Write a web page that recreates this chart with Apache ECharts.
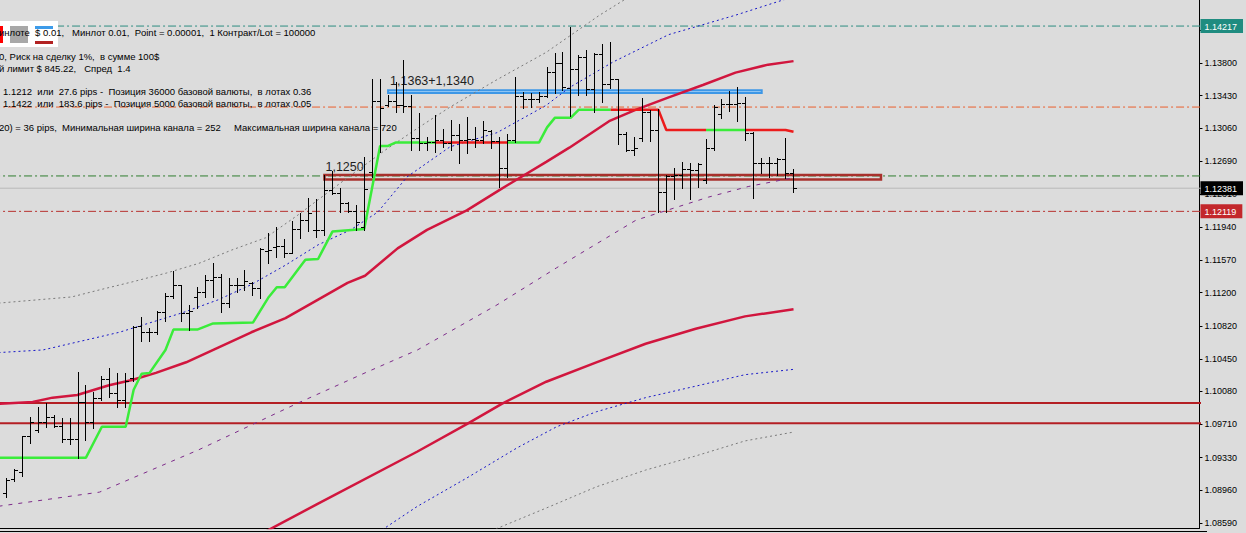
<!DOCTYPE html>
<html><head><meta charset="utf-8">
<script src="https://cdn.jsdelivr.net/npm/echarts@6/dist/echarts.min.js"></script>
<style>html,body{margin:0;padding:0;background:#dcdcdc;overflow:hidden}#c{width:1246px;height:533px}</style>
</head><body><div id="c"></div>
<script>
// ---------- DATA (prices) ----------
const barOpen = [1.0893,1.0909,1.0917,1.0957,1.0964,1.0973,1.0979,1.0969,1.0954,1.0954,
1.0996,1.0973,1.1001,1.1022,1.1006,1.0998,1.1023,1.1082,1.1075,1.1075,
1.1098,1.1116,1.1129,1.1097,1.1115,1.1121,1.1134,1.1138,1.1108,1.1129,
1.1129,1.1131,1.1125,1.1167,1.1172,1.1173,1.1165,1.1192,1.1202,1.1191,
1.1191,1.1236,1.1233,1.1221,1.1212,1.1194,1.1257,1.1337,1.1332,1.1337,
1.1332,1.1331,1.1295,1.1289,1.1290,1.1293,1.1289,1.1298,1.1293,1.1294,
1.1293,1.1303,1.1292,1.1261,1.1293,1.1343,1.1339,1.1339,1.1343,1.1370,
1.1380,1.1352,1.1373,1.1387,1.1350,1.1390,1.1356,1.1362,1.1300,1.1281,
1.1295,1.1324,1.1304,1.1234,1.1252,1.1253,1.1260,1.1259,1.1247,1.1284,
1.1322,1.1333,1.1333,1.1335,1.1301,1.1267,1.1267,1.1267,1.1271,1.1255];
const barHigh = [1.0910,1.0920,1.0958,1.0979,1.0990,1.0995,1.0981,1.0978,1.0978,1.1030,
1.1015,1.1007,1.1026,1.1035,1.1029,1.1029,1.1082,1.1092,1.1080,1.1099,
1.1120,1.1144,1.1129,1.1106,1.1126,1.1140,1.1153,1.1141,1.1137,1.1137,
1.1146,1.1132,1.1170,1.1187,1.1194,1.1181,1.1201,1.1210,1.1227,1.1226,
1.1253,1.1258,1.1238,1.1223,1.1219,1.1273,1.1362,1.1362,1.1344,1.1358,
1.1383,1.1344,1.1323,1.1296,1.1321,1.1305,1.1315,1.1311,1.1319,1.1307,
1.1314,1.1304,1.1296,1.1300,1.1364,1.1347,1.1346,1.1347,1.1375,1.1391,
1.1392,1.1421,1.1389,1.1395,1.1391,1.1401,1.1404,1.1362,1.1302,1.1296,
1.1340,1.1327,1.1328,1.1253,1.1261,1.1268,1.1267,1.1267,1.1294,1.1332,
1.1339,1.1348,1.1353,1.1341,1.1302,1.1272,1.1273,1.1272,1.1295,1.1260];
const barLow = [1.0889,1.0907,1.0912,1.0950,1.0962,1.0968,1.0968,1.0951,1.0949,1.0933,
1.0953,1.0967,1.0998,1.1002,1.0990,1.0990,1.1020,1.1065,1.1065,1.1073,
1.1088,1.1114,1.1088,1.1078,1.1103,1.1115,1.1115,1.1098,1.1104,1.1121,
1.1123,1.1117,1.1114,1.1153,1.1160,1.1160,1.1165,1.1182,1.1190,1.1183,
1.1185,1.1232,1.1211,1.1211,1.1191,1.1191,1.1251,1.1279,1.1331,1.1324,
1.1324,1.1281,1.1281,1.1281,1.1279,1.1285,1.1281,1.1267,1.1278,1.1285,
1.1289,1.1284,1.1240,1.1251,1.1290,1.1329,1.1330,1.1336,1.1341,1.1346,
1.1349,1.1320,1.1344,1.1344,1.1324,1.1336,1.1352,1.1288,1.1280,1.1276,
1.1292,1.1292,1.1211,1.1211,1.1226,1.1238,1.1226,1.1240,1.1244,1.1281,
1.1318,1.1326,1.1314,1.1293,1.1227,1.1255,1.1251,1.1253,1.1250,1.1234];
const barClose = [1.0908,1.0919,1.0957,1.0973,1.0973,1.0979,1.0969,1.0954,1.0954,1.0996,
1.0973,1.1001,1.1022,1.1006,1.0998,1.1020,1.1081,1.1075,1.1075,1.1098,
1.1116,1.1129,1.1097,1.1099,1.1121,1.1134,1.1138,1.1108,1.1129,1.1129,
1.1133,1.1125,1.1169,1.1168,1.1173,1.1165,1.1192,1.1202,1.1210,1.1191,
1.1236,1.1233,1.1221,1.1212,1.1200,1.1237,1.1337,1.1329,1.1337,1.1332,
1.1331,1.1295,1.1289,1.1290,1.1293,1.1289,1.1298,1.1293,1.1294,1.1293,
1.1304,1.1292,1.1261,1.1293,1.1343,1.1339,1.1339,1.1343,1.1370,1.1380,
1.1353,1.1373,1.1387,1.1350,1.1390,1.1356,1.1362,1.1300,1.1281,1.1284,
1.1324,1.1304,1.1234,1.1252,1.1253,1.1260,1.1259,1.1266,1.1284,1.1330,
1.1333,1.1333,1.1335,1.1301,1.1267,1.1267,1.1267,1.1271,1.1255,1.1238];

// indicator lines: [bar index, price]
const maUpper = [[-1,1.0994],[3.3,1.0996],[5.8,1.1001],[8.9,1.1004],[12.9,1.1015],[15.8,1.1021],[18.8,1.1029],[22.6,1.1041],[26.7,1.1058],[30.8,1.1075],[35.1,1.1091],[39.2,1.1112],[42.9,1.1131],[45.1,1.1139],[49.2,1.1170],[52.9,1.1191],[57.9,1.1213],[62,1.1236],[67.9,1.1268],[70.8,1.1284],[75.8,1.1314],[79.2,1.1327],[83.3,1.1341],[87.6,1.1355],[91.7,1.1369],[95.8,1.1378],[99,1.1382]];
const maLower = [[32.3,1.0848],[39.2,1.0881],[51.7,1.0940],[57.9,1.0971],[62.3,1.0994],[67.9,1.1019],[74.2,1.1041],[80.4,1.1062],[86.7,1.1079],[92.9,1.1093],[99,1.1101]];
const blueUpper = [[-1,1.1052],[4.6,1.1055],[14.2,1.1075],[22.1,1.1097],[26.7,1.1112],[30.8,1.1129],[35.1,1.1151],[39.2,1.1174],[43.3,1.1191],[46.7,1.1211],[50.4,1.1251],[55.8,1.1285],[61.7,1.1301],[67.9,1.1332],[70.8,1.1352],[76.3,1.1381],[83.3,1.1412],[91.7,1.1434],[99,1.1455]];
const blueLower = [[46.7,1.0848],[51.7,1.0878],[57.9,1.0910],[64.2,1.0944],[69.2,1.0968],[74.2,1.0985],[80.4,1.1001],[86.7,1.1014],[92.9,1.1027],[99,1.1033]];
const grayUpper = [[-1,1.1108],[8.2,1.1115],[11.7,1.1123],[15.8,1.1132],[20.1,1.1142],[24.2,1.1153],[28.3,1.1168],[32.6,1.1182],[36.7,1.1208],[39.2,1.1225],[42.9,1.1250],[47.6,1.1281],[51.7,1.1306],[55.8,1.1330],[61.7,1.1361],[67.9,1.1392],[74.6,1.1434],[78,1.1453]];
const grayLower = [[60.4,1.0848],[67.9,1.0876],[74.2,1.0900],[80.4,1.0919],[86.7,1.0935],[92.9,1.0952],[99,1.0962]];
const purpleMid = [[-1,1.0878],[11.7,1.0894],[24.2,1.0942],[36.7,1.0995],[45.1,1.1029],[51.7,1.1055],[61.7,1.1106],[69.2,1.1148],[79.2,1.1202],[88.3,1.1228],[93.3,1.1240],[99,1.1250]];
const stopGreen = [
 [[-1,1.0933],[10,1.0933],[12,1.0968],[15,1.0968],[16,1.1010],[17,1.1028],[18,1.1029],[20,1.1055],[21,1.1078],[24,1.1078],[26,1.1085],[31,1.1086],[33,1.1115],[34,1.1126],[35,1.1126],[37.6,1.1157],[39.2,1.1158],[41,1.1189],[45,1.1192],[47,1.1286],[48,1.1286],[49,1.1290],[54,1.1290]],
 [[63,1.1290],[67,1.1290],[68,1.1307],[69,1.1318],[71,1.1318],[72,1.1327],[76,1.1327]],
 [[88,1.1304],[93,1.1304]]
];
const stopRed = [
 [[54,1.1290],[63,1.1290]],
 [[76,1.1327],[82,1.1327],[83,1.1304],[88,1.1304]],
 [[93,1.1304],[98,1.1304],[99,1.1302]]
];

// horizontal levels
const dashLevels = [1.14217, 1.1330, 1.1252, 1.12119];
const dashLevelColors = ['#2d8c80', '#ea5f2e', '#2f7d2f', '#b8312f'];
const bidLevel = 1.12381;
const supportLevels = [1.0995, 1.0972];

// zones: [startBar, endBar], [topPrice, bottomPrice]
const zoneBars = [[48, 95], [40, 110]];
const zonePrices = [[1.1349, 1.1346], [1.1253, 1.1248]];
const zoneLabels = ['1,1363+1,1340', '1,1250'];

// axis
const tickValues = [1.08590,1.08960,1.09330,1.09710,1.10080,1.10450,1.10820,1.11200,1.11570,1.11940,1.12310,1.12690,1.13060,1.13430,1.13800,1.14170];
const tickLabelValues = [1.08590,1.08960,1.09330,1.09710,1.10080,1.10450,1.10820,1.11200,1.11570,1.11940,1.12310,1.12690,1.13060,1.13430,1.13800];
const markedValues = [1.14217, 1.12381, 1.12119];
const markedStyles = ['t', 'k', 'r'];

const infoLines = [
 'инлоте  $ 0.01,   Минлот 0.01,  Point = 0.00001,  1 Контракт/Lot = 100000',
 '0, Риск на сделку 1%,  в сумме 100$',
 'й лимит $ 845.22,   Спред  1.4',
 '1.1212  или  27.6 pips -  Позиция 36000 базовой валюты,  в лотах 0.36',
 '1.1422  или  183.6 pips -  Позиция 5000 базовой валюты,  в лотах 0.05',
 '20) = 36 pips,  Минимальная ширина канала = 252     Максимальная ширина канала = 720'
];

// ---------- CHART ----------
const xMin = -0.8125, xMax = 150.0625;
const yMin = 1.08534, yMax = 1.14512;
const bars = barOpen.map((o, i) => [i, o, barHigh[i], barLow[i], barClose[i]]);

function lineSeries(data, color, width, type, z) {
  return {type: 'line', data: data, showSymbol: false, symbol: 'none', z: z || 3, silent: true,
    lineStyle: {color: color, width: width, type: type || 'solid', cap: 'butt'}, clip: true, animation: false};
}

const series = [];
dashLevels.forEach((p, i) => series.push(lineSeries([[xMin - 1, p], [xMax + 1, p]], dashLevelColors[i], 1, [8, 3, 2, 3], 1)));
series.push(lineSeries([[xMin - 1, bidLevel], [xMax + 1, bidLevel]], '#b9b9b9', 1, 'solid', 1));
supportLevels.forEach(p => series.push(lineSeries([[xMin - 1, p], [xMax + 1, p]], '#b41f24', 2, 'solid', 1)));

series.push({
  type: 'custom', z: 2, silent: true, animation: false,
  data: zoneBars.map((b, i) => [b[0], b[1], zonePrices[i][0], zonePrices[i][1], i]),
  encode: {x: [0, 1], y: [2, 3]},
  renderItem: function (params, api) {
    const i = api.value(4);
    const a = api.coord([api.value(0), api.value(2)]);
    const b = api.coord([api.value(1), api.value(3)]);
    const blue = i === 0;
    return {type: 'group', children: [
      {type: 'rect', shape: {x: a[0], y: a[1], width: b[0] - a[0], height: b[1] - a[1]},
        style: {fill: blue ? '#a9d3f7' : 'none', stroke: blue ? '#3d97e6' : '#a8302c', lineWidth: blue ? 2 : 2.5}},
      {type: 'text', x: a[0] + (blue ? 2 : 1), y: a[1] - (blue ? 3 : 2),
        style: {text: zoneLabels[i], font: '12.5px "Liberation Sans", Arial, sans-serif', fill: '#1e1e1e', align: 'left', verticalAlign: 'bottom'}}
    ]};
  }
});

series.push(lineSeries(grayUpper, '#7a7a7a', 1, [2, 3], 3));
series.push(lineSeries(grayLower, '#7a7a7a', 1, [2, 3], 3));
series.push(lineSeries(blueUpper, '#1616c8', 1, [2, 3], 3));
series.push(lineSeries(blueLower, '#1616c8', 1, [2, 3], 3));
series.push(lineSeries(purpleMid, '#7d2a8a', 1, [4, 6], 3));
series.push(lineSeries(maUpper, '#d1163e', 2.5, 'solid', 4));
series.push(lineSeries(maLower, '#d1163e', 2.5, 'solid', 4));
stopGreen.forEach(s => series.push(lineSeries(s, '#3aec3a', 2.5, 'solid', 4)));
stopRed.forEach(s => series.push(lineSeries(s, '#ec1c1c', 2.5, 'solid', 4)));

series.push({
  type: 'custom', z: 6, silent: true, animation: false, data: bars,
  encode: {x: 0, y: [1, 2, 3, 4]},
  renderItem: function (params, api) {
    const k = api.value(0);
    const h = api.coord([k, api.value(2)]), l = api.coord([k, api.value(3)]);
    const o = api.coord([k, api.value(1)]), c = api.coord([k, api.value(4)]);
    const cx = Math.round(h[0] - 0.5) + 0.5;
    const yo = Math.round(o[1]) + 0.5, yc = Math.round(c[1]) + 0.5;
    const st = {stroke: '#000', lineWidth: 1};
    return {type: 'group', children: [
      {type: 'line', shape: {x1: cx, y1: Math.round(h[1]), x2: cx, y2: Math.round(l[1]) + 1}, style: st},
      {type: 'line', shape: {x1: cx - 3.5, y1: yo, x2: cx, y2: yo}, style: st},
      {type: 'line', shape: {x1: cx, y1: yc, x2: cx + 3.5, y2: yc}, style: st}
    ]};
  }
});

const labelFont = '"Liberation Sans", Arial, sans-serif';
const option = {
  backgroundColor: '#dcdcdc',
  animation: false,
  grid: {left: 0, right: 39, top: 0, bottom: 5, containLabel: false},
  xAxis: {type: 'value', min: xMin, max: xMax, axisLine: {show: true, onZero: false, lineStyle: {color: '#000', width: 1}},
    axisTick: {show: false}, axisLabel: {show: false}, splitLine: {show: false}},
  yAxis: [
    {type: 'value', position: 'right', min: yMin, max: yMax, scale: true,
      axisLine: {show: true, onZero: false, lineStyle: {color: '#000', width: 1}},
      axisTick: {show: true, customValues: tickValues, length: 3, lineStyle: {color: '#000'}},
      axisLabel: {show: true, customValues: tickLabelValues, formatter: v => v.toFixed(5), color: '#000', fontSize: 9, fontFamily: labelFont, margin: 5},
      splitLine: {show: false}},
    {type: 'value', position: 'right', min: yMin, max: yMax, scale: true,
      axisLine: {show: false}, axisTick: {show: false}, splitLine: {show: false},
      axisLabel: {show: true, customValues: markedValues, margin: 1,
        formatter: v => { const i = markedValues.findIndex(m => Math.abs(m - v) < 1e-6); return '{' + markedStyles[i] + '|' + v.toFixed(5) + '}'; },
        rich: {
          t: {backgroundColor: '#1f8c80', color: '#fff', fontSize: 9, fontFamily: labelFont, padding: [3, 6, 2, 4], lineHeight: 10},
          k: {backgroundColor: '#000', color: '#fff', fontSize: 9, fontFamily: labelFont, padding: [3, 6, 2, 4], lineHeight: 10},
          r: {backgroundColor: '#c3272b', color: '#fff', fontSize: 9, fontFamily: labelFont, padding: [3, 6, 2, 4], lineHeight: 10}
        }}}
  ],
  series: series,
  graphic: {elements: [
    {type: 'line', shape: {x1: 0, y1: 531.5, x2: 1207, y2: 531.5}, style: {stroke: '#000', lineWidth: 1}, z: 50},
    {type: 'rect', shape: {x: 0, y: 21, width: 58, height: 26}, style: {fill: '#ffffff'}, z: 50},
    {type: 'rect', shape: {x: 0, y: 26, width: 3, height: 17}, style: {fill: '#ff0000'}, z: 51},
    {type: 'rect', shape: {x: 10, y: 26, width: 18, height: 17}, style: {fill: '#a8a8a8'}, z: 51},
    {type: 'rect', shape: {x: 35, y: 26, width: 18, height: 3}, style: {fill: '#3d9be9'}, z: 51},
    {type: 'rect', shape: {x: 35, y: 41, width: 18, height: 3}, style: {fill: '#b22222'}, z: 51}
  ].concat(infoLines.map((t, i) => ({
    type: 'text', x: i >= 3 && i <= 4 ? 3 : -1, y: [32.7, 56.7, 68.7, 91, 103.7, 127.7][i], z: 52,
    style: {text: t, font: '9.5px ' + labelFont, fill: '#000', verticalAlign: 'middle', align: 'left'}
  })))}
};

const chart = echarts.init(document.getElementById('c'), null, {renderer: 'svg'});
chart.setOption(option);
</script>
</body></html>
